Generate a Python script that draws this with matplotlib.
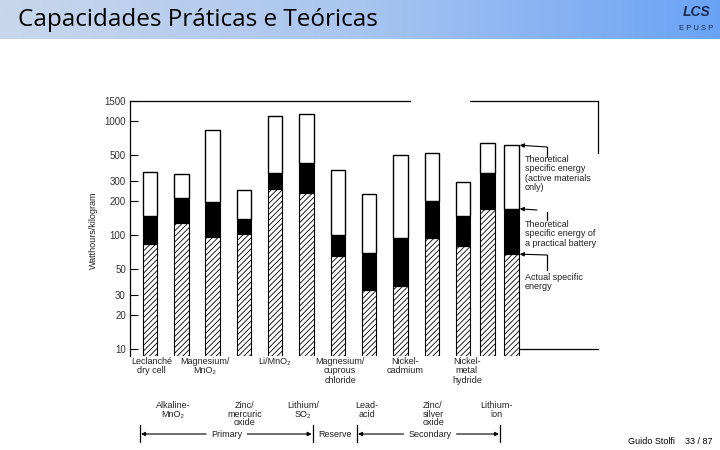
import numpy as np
import matplotlib.pyplot as plt
from matplotlib.colors import LinearSegmentedColormap

plt.rcParams['font.family'] = ['Liberation Sans', 'DejaVu Sans']
plt.rcParams['hatch.linewidth'] = 0.6

# bar positions (the last one is the legend example bar)
pos = [0, 1, 2, 3, 4, 5, 6, 7, 8, 9, 10, 10.78, 11.55]
theoretical = [359, 340, 828, 249, 1114, 1161, 376, 231, 507, 529, 290, 648, 614]
practical = [146, 211, 195, 139, 347, 425, 100, 70, 94, 201, 148, 352, 170]
actual = [84, 128, 96, 102, 255, 236, 65, 33, 36, 94, 80, 170, 68]

top_labels = ['Leclanché\ndry cell', 'Magnesium/\nMnO₂', 'Li/MnO₂',
              'Magnesium/\ncuprous\nchloride', 'Nickel-\ncadmium',
              'Nickel-\nmetal\nhydride']
top_x = [0.05, 1.76, 3.99, 6.07, 8.15, 10.12]
bot_labels = ['Alkaline-\nMnO₂', 'Zinc/\nmercuric\noxide', 'Lithium/\nSO₂',
              'Lead-\nacid', 'Zinc/\nsilver\noxide', 'Lithium-\nion']
bot_x = [0.73, 3.03, 4.88, 6.92, 9.04, 11.08]

yticks = [10, 20, 30, 50, 100, 200, 300, 500, 1000, 1500]

W, H = 720, 450
fig = plt.figure(figsize=(7.2, 4.5), dpi=100)


def fp(x, y):
    # pixel position (from top-left) -> figure fraction
    return x / W, 1 - y / H


txt = dict(transform=fig.transFigure, color='#222222', fontsize=6.5)

# header band
hax = fig.add_axes([0, 1 - 39 / H, 1, 39 / H])
cmap = LinearSegmentedColormap.from_list('hdr', ['#c8d7ec', '#a9c5f0', '#6aa3f6'])
hax.imshow(np.linspace(0, 1, 256).reshape(1, -1), aspect='auto', cmap=cmap,
           extent=[0, 1, 0, 1])
hax.axis('off')
fig.text(*fp(18, 20), 'Capacidades Práticas e Teóricas', fontsize=17.5,
         family=['Open Sans', 'DejaVu Sans'], va='center', ha='left', color='black')
fig.text(*fp(697, 12), 'LCS', fontsize=10, fontweight='bold', style='italic',
         ha='center', va='center', color='#1b2b52')
fig.text(*fp(696, 29), 'E P U S P', fontsize=5.5, ha='center', va='center',
         color='#1b2b52')
fig.text(*fp(712, 441), 'Guido Stolfi    33 / 87', fontsize=6.5, ha='right',
         va='center', color='black')

# chart
ax = fig.add_axes([130 / W, 1 - 356 / H, (598 - 130) / W, (356 - 101) / H])
ax.set_yscale('log')
ymin = 8.7
ax.set_ylim(ymin, 1500)
ax.set_xlim(-0.64, 14.31)
bw = 0.46

ax.bar(pos, np.array(actual) - ymin, bottom=ymin, width=bw, color='white',
       edgecolor='black', hatch='//////', linewidth=0.8)
ax.bar(pos, np.array(practical) - np.array(actual), bottom=actual, width=bw,
       color='black', edgecolor='black', linewidth=0.8)
ax.bar(pos, np.array(theoretical) - np.array(practical), bottom=practical,
       width=bw, color='white', edgecolor='black', linewidth=1.0)

ax.set_yticks(yticks)
ax.set_yticklabels([str(t) for t in yticks])
ax.minorticks_off()
ax.set_xticks([])
ax.tick_params(axis='y', direction='in', length=6, width=0.8, pad=3,
               labelsize=7, labelcolor='#333333')
for s in ['top', 'right', 'bottom']:
    ax.spines[s].set_visible(False)
ax.spines['left'].set_linewidth(0.9)

# partial frame as in the scan
fl = dict(color='black', lw=0.9, transform=fig.transFigure)
fig.add_artist(plt.Line2D([130 / W, 410 / W], [fp(0, 101)[1]] * 2, **fl))
fig.add_artist(plt.Line2D([470 / W, 598 / W], [fp(0, 101)[1]] * 2, **fl))
fig.add_artist(plt.Line2D([598 / W] * 2, [fp(0, 101)[1], fp(0, 153)[1]], **fl))
fig.add_artist(plt.Line2D([520 / W, 598 / W], [fp(0, 349)[1]] * 2, **fl))

fig.text(*fp(93, 230), 'Watthours/kilogram', rotation=90, ha='center',
         va='center', color='#222222', fontsize=6.5)

# category labels
for lab, x in zip(top_labels, top_x):
    ax.annotate(lab, (x, 0), xycoords=('data', 'figure fraction'),
                xytext=(0, (H - 357)), textcoords=('offset points', 'figure pixels'),
                ha='center', va='top', fontsize=6.5, color='#222222',
                linespacing=1.05)
for lab, x in zip(bot_labels, bot_x):
    ax.annotate(lab, (x, 0), xycoords=('data', 'figure fraction'),
                xytext=(0, (H - 401)), textcoords=('offset points', 'figure pixels'),
                ha='center', va='top', fontsize=6.5, color='#222222',
                linespacing=0.95)

# legend arrows pointing to the last bar
lx = pos[-1] + bw / 2 + 0.03
ap = dict(arrowstyle='-|>', color='black', lw=0.8, mutation_scale=6,
          shrinkA=0, shrinkB=0)
ax.annotate('', (lx, theoretical[-1]), xytext=(547, H - 147),
            textcoords='figure pixels', arrowprops=ap)
fig.add_artist(plt.Line2D([547 / W] * 2, [fp(0, 147)[1], fp(0, 157)[1]], **fl))
ax.annotate('', (lx, practical[-1]), xytext=(537, H - 210),
            textcoords='figure pixels', arrowprops=ap)
fig.add_artist(plt.Line2D([547 / W] * 2, [fp(0, 212)[1], fp(0, 220)[1]], **fl))
ax.annotate('', (lx, actual[-1]), xytext=(547, H - 255),
            textcoords='figure pixels', arrowprops=ap)
fig.add_artist(plt.Line2D([547 / W] * 2, [fp(0, 255)[1], fp(0, 270)[1]], **fl))

fig.text(*fp(525, 155), 'Theoretical\nspecific energy\n(active materials\nonly)',
         ha='left', va='top', linespacing=1.05, **txt)
fig.text(*fp(525, 220), 'Theoretical\nspecific energy of\na practical battery',
         ha='left', va='top', linespacing=1.05, **txt)
fig.text(*fp(525, 273), 'Actual specific\nenergy',
         ha='left', va='top', linespacing=1.05, **txt)

# Primary / Reserve / Secondary brackets
for x in [140, 312.7, 357, 500]:
    fig.add_artist(plt.Line2D([x / W] * 2, [fp(0, 425)[1], fp(0, 442)[1]], **fl))
groups = [('Primary', 226.7, 140, 312.7), ('Reserve', 335, None, None),
          ('Secondary', 430, 357, 500)]
ga = dict(arrowstyle='-|>', color='black', lw=0.8, mutation_scale=6,
          shrinkA=0, shrinkB=0)
fig.canvas.draw()
renderer = fig.canvas.get_renderer()
for name, cx, x0, x1 in groups:
    t = fig.text(*fp(cx, 434.5), name, ha='center', va='center', **txt)
    if x0 is not None:
        bb = t.get_window_extent(renderer)
        plt.annotate('', (x0 + 1, H - 434), xytext=(bb.x0 - 5, H - 434),
                     xycoords='figure pixels', textcoords='figure pixels',
                     arrowprops=ga)
        plt.annotate('', (x1 - 1, H - 434), xytext=(bb.x1 + 5, H - 434),
                     xycoords='figure pixels', textcoords='figure pixels',
                     arrowprops=ga)

fig.savefig('out.png', dpi=100)
